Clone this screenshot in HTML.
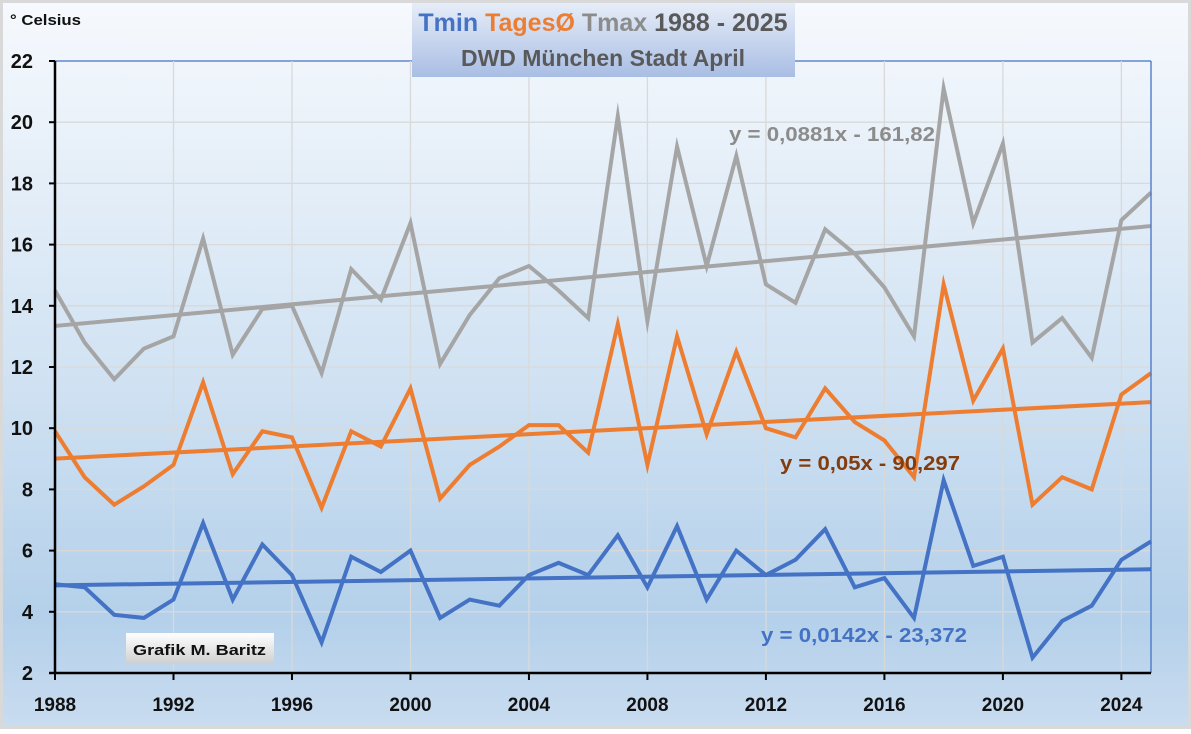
<!DOCTYPE html>
<html><head><meta charset="utf-8"><style>
html,body{margin:0;padding:0}
body{width:1191px;height:729px;overflow:hidden;font-family:"Liberation Sans",sans-serif}
</style></head><body>
<svg id="chart" width="1191" height="729" xmlns="http://www.w3.org/2000/svg">
<defs>
<linearGradient id="bg" x1="0" y1="0" x2="0" y2="1">
<stop offset="0" stop-color="#f6f9fd"/><stop offset="0.5" stop-color="#d2e3f3"/><stop offset="0.85" stop-color="#b4d0ea"/><stop offset="1" stop-color="#c9dcf0"/></linearGradient>
<linearGradient id="tb" x1="0" y1="0" x2="0" y2="1">
<stop offset="0" stop-color="#e6edf8"/><stop offset="1" stop-color="#a9bee4"/></linearGradient>
<linearGradient id="gb" x1="0" y1="0" x2="0" y2="1">
<stop offset="0" stop-color="#ffffff"/><stop offset="1" stop-color="#cfcfcf"/></linearGradient>
</defs>
<rect x="0" y="0" width="1191" height="729" fill="#d9d9d9"/>
<rect x="3" y="3" width="1185" height="723" fill="url(#bg)"/>
<g id="grid"></g>
<g id="trends"></g>
<g id="series"></g>
<g id="axes"></g>
<rect x="412" y="3" width="383" height="74" fill="url(#tb)"/>
<text x="603" y="31" text-anchor="middle" font-size="25" font-weight="bold"><tspan fill="#4472c4">Tmin </tspan><tspan fill="#ed7d31">TagesØ </tspan><tspan fill="#8c8c8c">Tmax </tspan><tspan fill="#595959">1988 - 2025</tspan></text>
<text x="603" y="66" text-anchor="middle" font-size="23" font-weight="bold" fill="#595959">DWD München Stadt April</text>
<text x="10" y="25" font-size="15" font-weight="bold" fill="#111" textLength="71" lengthAdjust="spacingAndGlyphs">° Celsius</text>
<text x="729" y="141" font-size="20" font-weight="bold" fill="#8c8c8c" textLength="206" lengthAdjust="spacingAndGlyphs">y = 0,0881x - 161,82</text>
<text x="780" y="470" font-size="20" font-weight="bold" fill="#843c0c" textLength="180" lengthAdjust="spacingAndGlyphs">y = 0,05x - 90,297</text>
<text x="761" y="642" font-size="20" font-weight="bold" fill="#4472c4" textLength="206" lengthAdjust="spacingAndGlyphs">y = 0,0142x - 23,372</text>
<rect x="126" y="633" width="148" height="31" fill="url(#gb)"/>
<text x="133" y="655" font-size="15" font-weight="bold" fill="#111" textLength="133" lengthAdjust="spacingAndGlyphs">Grafik M. Baritz</text>
</svg>
<script>
const years=[];for(let y=1988;y<=2025;y++)years.push(y);
const tmax=[14.5,12.8,11.6,12.6,13.0,16.2,12.4,13.9,14.0,11.8,15.2,14.2,16.7,12.1,13.7,14.9,15.3,14.5,13.6,20.2,13.5,19.2,15.3,18.9,14.7,14.1,16.5,15.7,14.6,13.0,21.1,16.7,19.3,12.8,13.6,12.3,16.8,17.7];
const tmean=[9.9,8.4,7.5,8.1,8.8,11.5,8.5,9.9,9.7,7.4,9.9,9.4,11.3,7.7,8.8,9.4,10.1,10.1,9.2,13.4,8.8,13.0,9.8,12.5,10.0,9.7,11.3,10.2,9.6,8.4,14.7,10.9,12.6,7.5,8.4,8.0,11.1,11.8];
const tmin=[4.9,4.8,3.9,3.8,4.4,6.9,4.4,6.2,5.2,3.0,5.8,5.3,6.0,3.8,4.4,4.2,5.2,5.6,5.2,6.5,4.8,6.8,4.4,6.0,5.2,5.7,6.7,4.8,5.1,3.8,8.3,5.5,5.8,2.5,3.7,4.2,5.7,6.3];
const yTicks=[2,4,6,8,10,12,14,16,18,20,22];
const xTickYears=[1988,1992,1996,2000,2004,2008,2012,2016,2020,2024];
const L=55,R=1151,T=61,B=673,y0=2,y1=22;
const X=yr=>L+(yr-1988)*(R-L)/(2025-1988);
const Y=v=>B-(v-y0)*(B-T)/(y1-y0);
const NS="http://www.w3.org/2000/svg";
function mk(tag,attrs,parent){const e=document.createElementNS(NS,tag);for(const k in attrs)e.setAttribute(k,attrs[k]);parent.appendChild(e);return e;}
const grid=document.getElementById('grid'),axes=document.getElementById('axes'),ser=document.getElementById('series'),tr=document.getElementById('trends');
yTicks.forEach(v=>{
 if(v>y0){const g=mk('line',{x1:L,x2:R,y1:Y(v),y2:Y(v),stroke:v===y1?'#4472c4':'#d9d9d9','stroke-width':1.3},grid);
 
 }
 const t=mk('text',{x:33,y:Y(v)+7,'text-anchor':'end','font-size':20,'font-weight':'bold',fill:'#111'},axes);t.textContent=v;
 
 
 const tk=mk('line',{x1:L-6,x2:L,y1:Y(v),y2:Y(v),stroke:'#000','stroke-width':2},axes);
 
 
});
xTickYears.forEach(yr=>{
 const g=mk('line',{x1:X(yr),x2:X(yr),y1:T,y2:B,stroke:'#d9d9d9','stroke-width':1.3},grid);
 
 
 const tk=mk('line',{x1:X(yr),x2:X(yr),y1:B,y2:B+7,stroke:'#000','stroke-width':2},axes);
 
 
 const t=mk('text',{x:X(yr),y:711,'text-anchor':'middle','font-size':19,'font-weight':'bold',fill:'#111'},axes);t.textContent=yr;
 
 
});
const rb=mk('line',{x1:R,x2:R,y1:T,y2:B,stroke:'#4472c4','stroke-width':1.3},axes);


const ax1=mk('line',{x1:L,x2:L,y1:T,y2:B+1,stroke:'#000','stroke-width':2.5},axes);


const ax2=mk('line',{x1:L-6,x2:R,y1:B,y2:B,stroke:'#000','stroke-width':2.5},axes);


function reg(vals){const n=vals.length;let sx=0,sy=0,sxx=0,sxy=0;vals.forEach((v,i)=>{const x=years[i];sx+=x;sy+=v;sxx+=x*x;sxy+=x*v;});const m=(n*sxy-sx*sy)/(n*sxx-sx*sx);return [m,(sy-m*sx)/n];}
[[tmax,'#a5a5a5',4,'tmax'],[tmean,'#ed7d31',4,'tmean'],[tmin,'#4472c4',4,'tmin']].forEach(([vals,c,w,nm])=>{
 const [m,b]=reg(vals);const a=years[0],z=years[years.length-1];
 const tl=mk('line',{x1:X(a),y1:Y(m*a+b),x2:X(z),y2:Y(m*z+b),stroke:c,'stroke-width':4},tr);
 
 
 const p=mk('polyline',{points:vals.map((v,i)=>X(years[i])+','+Y(v)).join(' '),fill:'none',stroke:c,'stroke-width':w,'stroke-linejoin':'miter','stroke-miterlimit':10},ser);
 
 
});
</script>
</body></html>
